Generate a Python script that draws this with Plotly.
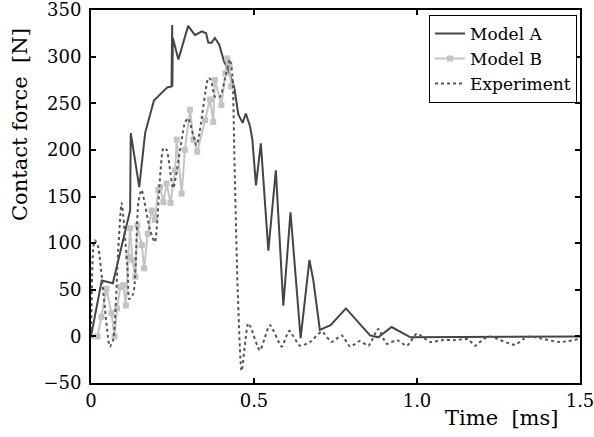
import plotly.graph_objects as go

# Model A (ms, N)
a_t = [0, 0.033, 0.067, 0.12, 0.122, 0.148, 0.166, 0.193, 0.234, 0.247, 0.249, 0.2495, 0.251,
       0.268, 0.298, 0.319, 0.34, 0.353, 0.36, 0.37, 0.38, 0.393, 0.408, 0.421, 0.439, 0.452,
       0.465, 0.475, 0.488, 0.495, 0.506, 0.521, 0.544, 0.567, 0.59, 0.612, 0.643, 0.67, 0.682,
       0.702, 0.735, 0.782, 0.856, 0.881, 0.922, 0.98, 1.5]
a_f = [0, 60, 57, 135, 218, 160, 218, 253, 267, 268, 334, 268, 320,
       297, 333, 323, 327, 325, 315, 315, 320, 313, 295, 286, 268, 238,
       229, 239, 225, 211, 162, 207, 92, 178, 33, 133, -2, 82, 60,
       7, 12, 30, 1, -1, 10, -1, 0]

# Model B
b_t = [0, 0.02, 0.032, 0.047, 0.063, 0.072, 0.08, 0.09, 0.099, 0.107, 0.114, 0.12, 0.127, 0.136,
       0.142, 0.156, 0.163, 0.174, 0.186, 0.196, 0.206, 0.212, 0.222, 0.232, 0.244, 0.258,
       0.263, 0.278, 0.288, 0.304, 0.314, 0.326, 0.35, 0.365, 0.375, 0.38, 0.40, 0.412,
       0.418, 0.425, 0.43]
b_f = [0, 0, 21, 51, 25, 0, 30, 53, 55, 33, 85, 116, 82, 64,
       119, 98, 73, 110, 135, 125, 157, 160, 144, 164, 143, 178,
       211, 153, 200, 243, 211, 198, 232, 254, 230, 275, 248, 282,
       298, 290, 268]

# Experiment
e_t = [0, 0.007, 0.012, 0.022, 0.058, 0.068, 0.084, 0.094, 0.113, 0.117, 0.13, 0.145, 0.155,
       0.181, 0.196, 0.222, 0.232, 0.252, 0.288, 0.298, 0.324, 0.36, 0.368, 0.38, 0.396, 0.41,
       0.426, 0.434, 0.44, 0.45, 0.462, 0.482, 0.49, 0.518, 0.549, 0.585, 0.608, 0.641, 0.672,
       0.708, 0.738, 0.769, 0.795, 0.825, 0.851, 0.881, 0.907, 0.938, 0.969, 1.0, 1.04, 1.08,
       1.117, 1.157, 1.178, 1.203, 1.224, 1.255, 1.301, 1.326, 1.347, 1.377, 1.438, 1.495]
e_f = [0, 96, 103, 96, -11, -4, 96, 143, 67, 40, 46, 143, 157,
       114, 101, 202, 200, 159, 229, 234, 205, 277, 275, 257, 257, 275,
       297, 279, 190, 50, -37, 14, 10, -15, 12, -11, 6, -10, -6,
       5, -6, 1, -11, -5, -10, 8, -8, -4, -10, 3, -6, -4,
       -4, -3, -10, -3, 0, -4, -9, -3, 0, -2, -6, -3]

x_ticks = [0, 0.5, 1.0, 1.5]
x_labels = ["0", "0.5", "1.0", "1.5"]
y_ticks = [-50, 0, 50, 100, 150, 200, 250, 300, 350]

FONT = "DejaVu Serif, serif"

fig = go.Figure()
fig.add_trace(go.Scatter(x=a_t, y=a_f, mode="lines", name="Model A",
                         line=dict(color="#444444", width=2)))
fig.add_trace(go.Scatter(x=b_t, y=b_f, mode="lines+markers", name="Model B",
                         line=dict(color="#c4c4c4", width=2),
                         marker=dict(symbol="square", size=6, color="#c4c4c4")))
fig.add_trace(go.Scatter(x=e_t, y=e_f, mode="lines", name="Experiment",
                         line=dict(color="#555555", width=2, dash="dot", shape="spline", smoothing=0.6)))

axis_common = dict(showline=True, linecolor="black", linewidth=2, mirror="ticks",
                   ticks="inside", ticklen=5, tickwidth=2, tickcolor="black",
                   showgrid=False, zeroline=False, automargin=False,
                   ticklabeloverflow="allow",
                   tickfont=dict(family=FONT, size=18, color="black"))

fig.update_layout(
    width=594, height=437,
    autosize=False,
    margin=dict(l=91, r=14, t=10, b=54, pad=0, autoexpand=False),
    paper_bgcolor="white", plot_bgcolor="white",
    font=dict(family=FONT, color="black"),
    xaxis=dict(range=[0, 1.5], tickvals=x_ticks, ticktext=x_labels, **axis_common),
    yaxis=dict(range=[-50, 350], tickvals=y_ticks, ticklabelstandoff=4, **axis_common),
    legend=dict(x=0.994, y=0.987, xanchor="right", yanchor="top",
                bgcolor="white", bordercolor="black", borderwidth=1,
                font=dict(family=FONT, size=17, color="black"),
                tracegroupgap=0, itemwidth=30),
    showlegend=True,
    annotations=[
        dict(text="Time\u00a0\u00a0[ms]", xref="paper", yref="paper", x=(502 - 91) / 489,
             y=(383 - 418) / 373, xanchor="center", yanchor="middle", showarrow=False,
             font=dict(family=FONT, size=21, color="black")),
        dict(text="Contact force\u00a0\u00a0[N]", xref="paper", yref="paper",
             x=(20 - 91) / 489, y=(383 - 125) / 373,
             xanchor="center", yanchor="middle", showarrow=False, textangle=-90,
             font=dict(family=FONT, size=21, color="black")),
    ],
)

fig.write_html("out.html", config={"displayModeBar": False},
               post_script="document.body.style.margin='0';")
